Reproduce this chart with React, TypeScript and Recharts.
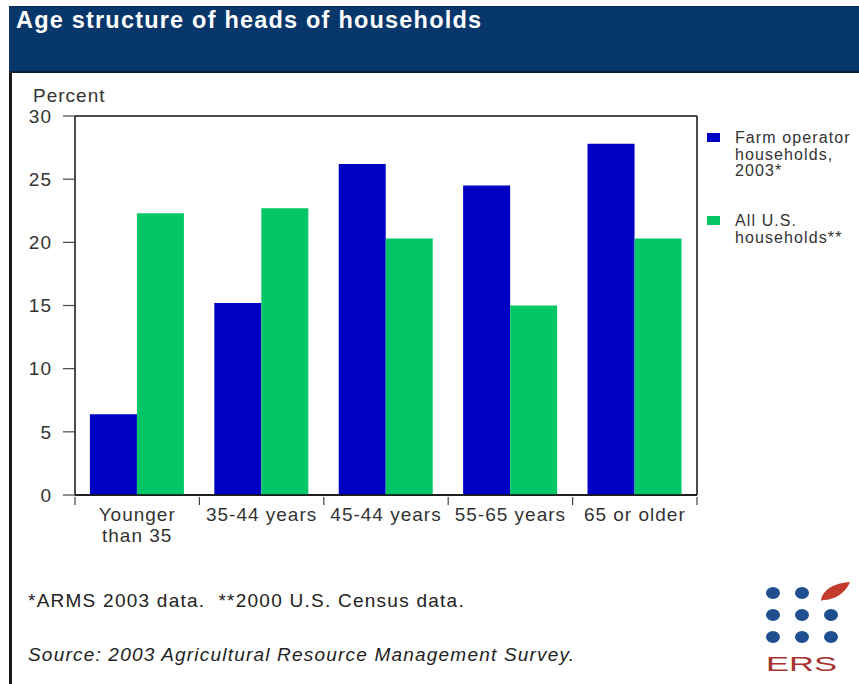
import React from "react";
import {
  BarChart,
  Bar,
  XAxis,
  YAxis,
  CartesianGrid,
  Legend,
} from "recharts";

const categories = [
  "Younger\nthan 35",
  "35-44 years",
  "45-44 years",
  "55-65 years",
  "65 or older",
];
const farmOperator = [6.4, 15.2, 26.2, 24.5, 27.8];
const allUS = [22.3, 22.7, 20.3, 15.0, 20.3];
const seriesNames = ["Farm operator\nhouseholds,\n2003*", "All U.S.\nhouseholds**"];
const seriesColors = ["#0000c4", "#03c766"];
const yTicks = [0, 5, 10, 15, 20, 25, 30];

const title = "Age structure of heads of households";
const yLabel = "Percent";
const footnote = "*ARMS 2003 data.  **2000 U.S. Census data.";
const source = "Source: 2003 Agricultural Resource Management Survey.";

const data = categories.map((c, i) => ({
  category: c,
  farm: farmOperator[i],
  all: allUS[i],
}));

const FONT = "'Liberation Sans', Arial, Helvetica, sans-serif";
const TEXT = "#333";

const XTick = (props: any) => {
  const { x, y, payload, index } = props;
  const half = payload && payload.offset ? payload.offset : 0;
  const lines = String(payload.value).split("\n");
  return (
    <g>
      <line x1={x - half} x2={x - half} y1={y} y2={y + 8} stroke="#444" strokeWidth={1.2} />
      {index === categories.length - 1 && (
        <line x1={x + half} x2={x + half} y1={y} y2={y + 8} stroke="#444" strokeWidth={1.2} />
      )}
      <text
        x={x}
        y={y}
        textAnchor="middle"
        fontSize={19}
        fill={TEXT}
        letterSpacing={1}
        fontFamily={FONT}
      >
        {lines.map((l, i) => (
          <tspan key={i} x={x} dy={i === 0 ? 24 : 21}>
            {l}
          </tspan>
        ))}
      </text>
    </g>
  );
};

const LegendContent = (props: any) => {
  const items = [...(props.payload || [])].sort(
    (a: any, b: any) => seriesNames.indexOf(String(a.value)) - seriesNames.indexOf(String(b.value))
  );
  return (
    <div style={{ fontFamily: FONT, fontSize: 16, letterSpacing: 1.1, color: TEXT, lineHeight: "16.5px" }}>
      {items.map((p: any, i: number) => (
        <div key={i} style={{ position: "relative", marginBottom: i === 0 ? 33.5 : 0, whiteSpace: "pre" }}>
          <div
            style={{
              position: "absolute",
              left: 0,
              top: 3,
              width: 13,
              height: 9,
              background: p.color,
            }}
          />
          <div style={{ marginLeft: 28 }}>{String(p.value)}</div>
        </div>
      ))}
    </div>
  );
};

export default function App() {
  return (
    <div
      style={{
        position: "absolute",
        left: 0,
        top: 0,
        width: 859,
        height: 684,
        overflow: "hidden",
        background: "#fff",
        fontFamily: FONT,
      }}
    >
      {/* header band */}
      <div
        style={{
          position: "absolute",
          left: 9,
          top: 6,
          width: 850,
          height: 64,
          background: "#07366b",
          borderTop: "1px solid #0b2a50",
          borderBottom: "2px solid #0c1f38",
        }}
      />
      <div
        style={{
          position: "absolute",
          left: 16,
          top: 7,
          color: "#fff",
          fontWeight: "bold",
          fontSize: 23.5,
          letterSpacing: 1.2,
          whiteSpace: "nowrap",
        }}
      >
        {title}
      </div>
      {/* left border */}
      <div
        style={{
          position: "absolute",
          left: 9,
          top: 72,
          width: 3,
          height: 612,
          background: "#1a1a1a",
        }}
      />
      <div
        style={{
          position: "absolute",
          left: 33,
          top: 85,
          fontSize: 19,
          letterSpacing: 1,
          color: TEXT,
          whiteSpace: "nowrap",
        }}
      >
        {yLabel}
      </div>

      <div style={{ position: "absolute", left: 0, top: 0 }}>
        <BarChart
          width={859}
          height={684}
          data={data}
          margin={{ top: 116, right: 161, bottom: 149, left: 35 }}
          barCategoryGap="12%"
          barGap={0}
        >
          <CartesianGrid vertical={false} stroke="#111" strokeWidth={1.5} />
          <XAxis
            dataKey="category"
            height={40}
            tickSize={0}
            tickLine={false}
            axisLine={{ stroke: "#111", strokeWidth: 1.5 }}
            tick={<XTick />}
            interval={0}
          />
          <YAxis
            yAxisId="left"
            width={40}
            domain={[0, 30]}
            ticks={yTicks}
            tickSize={12}
            tickMargin={11}
            tickLine={{ stroke: "#444", strokeWidth: 1.2 }}
            axisLine={{ stroke: "#111", strokeWidth: 1.5 }}
            tick={{ fontSize: 19, fill: TEXT, fontFamily: FONT, letterSpacing: 1 }}
          />
          <YAxis
            yAxisId="right"
            orientation="right"
            width={1}
            domain={[0, 30]}
            ticks={yTicks}
            tick={false}
            tickLine={false}
            axisLine={{ stroke: "#111", strokeWidth: 1.5 }}
          />
          <Legend
            layout="vertical"
            align="center"
            verticalAlign="middle"
            content={<LegendContent />}
            wrapperStyle={{ position: "absolute", left: 707, top: 130, width: 170 }}
          />
          <Bar
            yAxisId="left"
            dataKey="farm"
            name={seriesNames[0]}
            fill={seriesColors[0]}
            isAnimationActive={false}
          />
          <Bar
            yAxisId="left"
            dataKey="all"
            name={seriesNames[1]}
            fill={seriesColors[1]}
            isAnimationActive={false}
          />
        </BarChart>
      </div>

      <div
        style={{
          position: "absolute",
          left: 28,
          top: 590,
          fontSize: 19,
          letterSpacing: 1.25,
          color: "#222",
          whiteSpace: "pre",
        }}
      >
        {footnote}
      </div>
      <div
        style={{
          position: "absolute",
          left: 28,
          top: 644,
          fontSize: 19,
          letterSpacing: 1.2,
          fontStyle: "italic",
          color: "#222",
          whiteSpace: "pre",
        }}
      >
        {source}
      </div>

      {/* ERS logo */}
      <svg
        style={{ position: "absolute", left: 0, top: 0 }}
        width={859}
        height={684}
        pointerEvents="none"
      >
        <g fill="#1f4f8f">
          <ellipse cx={773} cy={593} rx={7} ry={6} />
          <ellipse cx={802} cy={593} rx={7} ry={6} />
          <ellipse cx={773} cy={615} rx={7} ry={6} />
          <ellipse cx={802} cy={615} rx={7} ry={6} />
          <ellipse cx={831} cy={615} rx={7} ry={6} />
          <ellipse cx={773} cy={637} rx={7} ry={6} />
          <ellipse cx={802} cy={637} rx={7} ry={6} />
          <ellipse cx={831} cy={637} rx={7} ry={6} />
        </g>
        <path
          d="M821 601 C 822 590, 834 583, 850 582 C 846 592, 836 600, 823 600 Z"
          fill="#c23b2b"
        />
        <text
          x={766}
          y={671}
          fontSize={21}
          fill="#a83232"
          fontFamily={FONT}
          textLength={71}
          lengthAdjust="spacingAndGlyphs"
        >
          ERS
        </text>
      </svg>
    </div>
  );
}
